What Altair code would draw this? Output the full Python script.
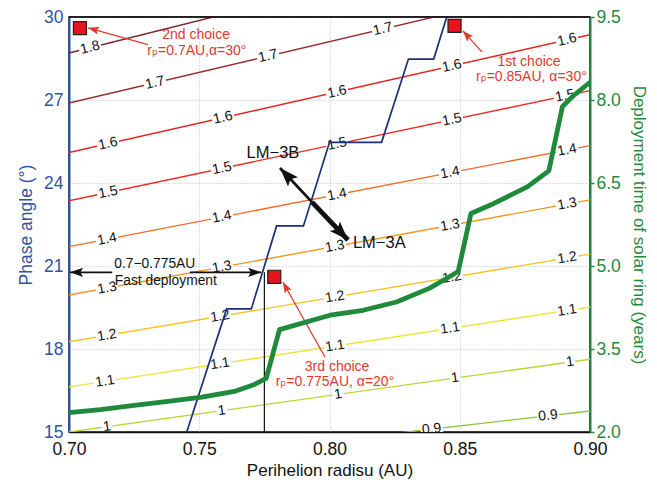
import math
import altair as alt
import pandas as pd

# ---------------- data ----------------
# contour levels (straight iso-lines), phase angle at x=0.70 and x=0.90
levels = [0.9, 1.0, 1.1, 1.2, 1.3, 1.4, 1.5, 1.6, 1.7, 1.8]
level_y_at_070 = [13.60, 15.00, 16.63, 18.26, 19.95, 21.70, 23.36, 25.10, 26.89, 28.70]
level_y_at_090 = [15.76, 17.63, 19.52, 21.43, 23.39, 25.35, 27.34, 29.36, 31.33, 33.40]
level_label_x = [
    [0.8392, 0.8839],
    [0.7146, 0.7587, 0.8033, 0.8482, 0.8923],
    [0.7138, 0.7580, 0.8021, 0.8463, 0.8912],
    [0.7146, 0.7580, 0.8021, 0.8470, 0.8912],
    [0.7146, 0.7587, 0.8021, 0.8463, 0.8912],
    [0.7146, 0.7587, 0.8029, 0.8463, 0.8912],
    [0.7150, 0.7587, 0.8029, 0.8470, 0.8904],
    [0.7150, 0.7591, 0.8029, 0.8470, 0.8912],
    [0.7330, 0.7764, 0.8205],
    [0.7081],
]
level_label_text = ["0.9", "1", "1.1", "1.2", "1.3", "1.4", "1.5", "1.6", "1.7", "1.8"]
level_colors = ["#8cc63f", "#bdd532", "#ece63a", "#f7c31f", "#f7941d",
                "#f26a25", "#ec2a24", "#e5231e", "#9b2b2b", "#7a1f1f"]

# LM-3B / LM-3A boundary (stair line)
lm_x = [0.7452, 0.7605, 0.7700, 0.7797, 0.7900, 0.8000, 0.8200, 0.8303, 0.8400, 0.8450]
lm_y = [15.00, 19.45, 19.45, 22.45, 22.45, 25.47, 25.47, 28.48, 28.48, 30.00]

# deployment time of solar ring (right axis, years)
dep_x = [0.700, 0.712, 0.725, 0.738, 0.751, 0.764, 0.7712, 0.7757, 0.7808, 0.8002,
         0.8129, 0.8257, 0.8385, 0.8462, 0.8494, 0.8543, 0.8631, 0.8759, 0.8842,
         0.8894, 0.8939, 0.900]
dep_t = [2.35, 2.405, 2.48, 2.555, 2.63, 2.74, 2.86, 2.97, 3.85, 4.11,
         4.20, 4.35, 4.60, 4.81, 4.90, 5.95, 6.13, 6.43, 6.72,
         7.88, 8.09, 8.32]

# chosen points
choice_x = [0.8480, 0.7042, 0.7788]
choice_y = [29.68, 29.60, 20.61]

# arrows (tail -> head)
arrow_tail_x = [0.7303, 0.8585, 0.7983, 0.7933, 0.7933, 0.7166, 0.7464]
arrow_tail_y = [29.00, 28.74, 17.70, 23.31, 23.31, 20.77, 20.77]
arrow_head_x = [0.7073, 0.8512, 0.7821, 0.7810, 0.8071, 0.7004, 0.7738]
arrow_head_y = [29.61, 29.50, 20.42, 24.54, 21.94, 20.77, 20.77]
arrow_color = ["#e0392f", "#e0392f", "#e0392f", "#111111", "#111111", "#111111", "#111111"]
arrow_width = [1.3, 1.3, 1.3, 2.8, 4.8, 1.6, 1.6]
arrow_len = [11, 11, 11, 19, 19, 13, 13]

# vertical marker of fast deployment limit
fast_x = [0.775]
fast_y0 = [15.0]
fast_y1 = [20.77]

# text annotations
red_text = ["2nd choice", "rₚ=0.7AU,α=30°", "1st  choice", "rₚ=0.85AU, α=30°",
            "3rd choice", "rₚ=0.775AU, α=20°"]
red_text_x = [0.7488, 0.7491, 0.8766, 0.8775, 0.8029, 0.8021]
red_text_y = [29.36, 28.78, 28.38, 27.83, 17.35, 16.82]

center_text = ["LM−3B"]
center_text_x = [0.7783]
center_text_y = [25.10]
left_text = ["LM−3A", "0.7−0.775AU", "Fast deployment"]
left_text_x = [0.8090, 0.7174, 0.7176]
left_text_y = [21.83, 21.08, 20.45]
left_text_size = [16.5, 13.8, 13.8]

x_ticks = [0.70, 0.75, 0.80, 0.85, 0.90]
y_ticks = [15, 18, 21, 24, 27, 30]
t_ticks = [2.0, 3.5, 5.0, 6.5, 8.0, 9.5]

# ---------------- layout ----------------
W, H = 521, 415
XD = [0.70, 0.90]
YD = [15, 30]
TD = [2.0, 9.5]
px_x = W / (XD[1] - XD[0])
px_y = H / (YD[1] - YD[0])
FONT = "Liberation Sans, Arial, DejaVu Sans"
BLUE = "#2d55a5"
GREEN = "#1f8a3c"
GRID = "#b4bfdc"

xscale = alt.Scale(domain=XD, nice=False, zero=False)
yscale = alt.Scale(domain=YD, nice=False, zero=False)
tscale = alt.Scale(domain=TD, nice=False, zero=False)

xaxis = alt.Axis(values=x_ticks, format=".2f", grid=True, gridDash=[1, 2],
                 gridColor=GRID, gridWidth=1, ticks=False, domainColor="#111111",
                 domainWidth=1.5, labelColor="#111111", labelFontSize=17.5,
                 labelPadding=8, titleFontSize=17, titleFontWeight="normal",
                 titleColor="#111111", titlePadding=5, labelFont=FONT, titleFont=FONT,
                 labelFlush=False)
yaxis = alt.Axis(values=y_ticks, format="d", grid=True, gridDash=[1, 2],
                 gridColor=GRID, gridWidth=1, ticks=False, domainColor=BLUE,
                 domainWidth=2, labelColor=BLUE, labelFontSize=17.5, labelPadding=6,
                 titleFontSize=17.5, titleFontWeight="normal", titleColor=BLUE,
                 titlePadding=8, orient="left", labelFont=FONT, titleFont=FONT,
                 labelFlush=False)
taxis = alt.Axis(values=t_ticks, format=".1f", grid=False, ticks=True, tickSize=4,
                 tickColor=GREEN, tickWidth=1.5, domainColor=GREEN, domainWidth=2,
                 labelColor=GREEN, labelFontSize=17.5, labelPadding=2, titleFontSize=17,
                 titleFontWeight="normal", titleColor=GREEN, titlePadding=9,
                 orient="right", labelFont=FONT, titleFont=FONT, labelFlush=False)


def X(f="x"):
    return alt.X(f"{f}:Q", scale=xscale, axis=xaxis, title="Perihelion radisu (AU)")


def Y(f="y"):
    return alt.Y(f"{f}:Q", scale=yscale, axis=yaxis, title="Phase angle (°)")


def pix_angle(dx, dy):
    """clockwise angle from 'up' of a data-space direction, in screen pixels"""
    sx = dx * px_x
    sy = -dy * px_y
    return math.degrees(math.atan2(sx, -sy)) % 360


# ---------------- tables ----------------
rows = []
lab_rows = []
char_w = {"1": 7.8, ".": 3.9, "0": 7.8, "2": 7.8, "3": 7.8, "4": 7.8, "5": 7.8,
          "6": 7.8, "7": 7.8, "8": 7.8, "9": 7.8}
for i, lv in enumerate(levels):
    y0, y1 = level_y_at_070[i], level_y_at_090[i]
    rows.append({"x": XD[0], "y": y0, "lev": str(lv), "o": 0})
    rows.append({"x": XD[1], "y": y1, "lev": str(lv), "o": 1})
    slope = (y1 - y0) / (XD[1] - XD[0])
    ang = (360 - math.degrees(math.atan(slope * px_y / px_x))) % 360
    txt = level_label_text[i]
    tw = sum(char_w[c] for c in txt)
    for lx in level_label_x[i]:
        ly = y0 + slope * (lx - XD[0])
        lab_rows.append({"x": lx, "y": ly, "t": txt, "ang": ang,
                         "sz": (tw + 3) ** 2})
contour_df = pd.DataFrame(rows)
label_df = pd.DataFrame(lab_rows)

lm_df = pd.DataFrame({"x": lm_x, "y": lm_y, "o": list(range(len(lm_x)))})
dep_df = pd.DataFrame({"x": dep_x, "t": dep_t, "o": list(range(len(dep_x)))})
choice_df = pd.DataFrame({"x": choice_x, "y": choice_y})
fast_df = pd.DataFrame({"x": fast_x, "y": fast_y0, "y2": fast_y1})
top_df = pd.DataFrame({"y": [YD[1]]})

arr_rows = []
for i in range(len(arrow_tail_x)):
    dx = arrow_head_x[i] - arrow_tail_x[i]
    dy = arrow_head_y[i] - arrow_tail_y[i]
    arr_rows.append({"x": arrow_tail_x[i], "y": arrow_tail_y[i],
                     "x2": arrow_head_x[i], "y2": arrow_head_y[i],
                     "c": arrow_color[i], "w": arrow_width[i],
                     "ang": pix_angle(dx, dy), "sz": 4 * arrow_len[i] ** 2,
                     "id": i})
arrow_df = pd.DataFrame(arr_rows)

red_df = pd.DataFrame({"x": red_text_x, "y": red_text_y, "t": red_text})
ctr_df = pd.DataFrame({"x": center_text_x, "y": center_text_y, "t": center_text})
lft_df = pd.DataFrame({"x": left_text_x, "y": left_text_y, "t": left_text,
                       "s": left_text_size})

# ---------------- layers ----------------
lev_order = [str(l) for l in levels]
contours = alt.Chart(contour_df).mark_line(strokeWidth=1.4, clip=True).encode(
    x=X(), y=Y(), order="o:Q",
    color=alt.Color("lev:N", scale=alt.Scale(domain=lev_order, range=level_colors),
                    legend=None),
    detail="lev:N",
)

label_bg = alt.Chart(label_df).mark_point(
    shape="M-1,-0.5L1,-0.5L1,0.5L-1,0.5Z", filled=True, color="white",
    opacity=1, strokeWidth=0, clip=True
).encode(x=X(), y=Y(), angle=alt.Angle("ang:Q", scale=None),
         size=alt.Size("sz:Q", scale=None))

labels = alt.Chart(label_df).mark_text(
    font=FONT, fontSize=14, color="#111111", baseline="middle", align="center",
    clip=True
).encode(x=X(), y=Y(), text="t:N", angle=alt.Angle("ang:Q", scale=None))

fast_line = alt.Chart(fast_df).mark_rule(color="#111111", strokeWidth=1.2).encode(
    x=X(), y=Y(), y2=alt.Y2("y2:Q"))

stairs = alt.Chart(lm_df).mark_line(color="#1c2f7a", strokeWidth=1.7, clip=True).encode(
    x=X(), y=Y(), order="o:Q")

arrow_lines = alt.Chart(arrow_df).mark_rule().encode(
    x=X(), y=Y(), x2=alt.X2("x2:Q"), y2=alt.Y2("y2:Q"),
    color=alt.Color("c:N", scale=None),
    strokeWidth=alt.StrokeWidth("w:Q", scale=None),
    detail="id:N",
)
arrow_heads = alt.Chart(arrow_df).mark_point(
    shape="M0,0L0.36,1L0,0.8L-0.36,1Z", filled=True, opacity=1, strokeWidth=0
).encode(
    x=alt.X("x2:Q", scale=xscale, axis=xaxis, title="Perihelion radisu (AU)"),
    y=alt.Y("y2:Q", scale=yscale, axis=yaxis, title="Phase angle (°)"),
    color=alt.Color("c:N", scale=None),
    angle=alt.Angle("ang:Q", scale=None),
    size=alt.Size("sz:Q", scale=None),
)

top_border = alt.Chart(top_df).mark_rule(color="#111111", strokeWidth=1.5).encode(
    y=Y())

squares = alt.Chart(choice_df).mark_square(
    size=170, color="#e8141b", filled=True, opacity=1, stroke="#222222",
    strokeWidth=1.2
).encode(x=X(), y=Y())

red_texts = alt.Chart(red_df).mark_text(
    font=FONT, fontSize=14, color="#e0392f", align="center", baseline="middle"
).encode(x=X(), y=Y(), text="t:N")

ctr_texts = alt.Chart(ctr_df).mark_text(
    font=FONT, fontSize=16.5, color="#111111", align="center", baseline="middle"
).encode(x=X(), y=Y(), text="t:N")

lft_texts = alt.Chart(lft_df).mark_text(
    font=FONT, color="#111111", align="left", baseline="middle"
).encode(x=X(), y=Y(), text="t:N", size=alt.Size("s:Q", scale=None))

left = alt.layer(contours, label_bg, labels, fast_line, stairs, arrow_lines,
                 arrow_heads, top_border, squares, red_texts, ctr_texts, lft_texts)

green = alt.Chart(dep_df).mark_line(color=GREEN, strokeWidth=4.8, clip=True,
                                    strokeJoin="round").encode(
    x=X(),
    y=alt.Y("t:Q", scale=tscale, axis=taxis,
            title="Deployment time of solar ring (years)"),
    order="o:Q",
)

chart = alt.layer(left, green).resolve_scale(y="independent").properties(
    width=W, height=H,
    autosize=alt.AutoSizeParams(type="none"),
    padding={"left": 69, "top": 17, "right": 67, "bottom": 53},
    background="white",
).configure(font=FONT, view=alt.ViewConfig(stroke="#111111", strokeWidth=1.5))

chart.save("out.html", embed_options={"renderer": "svg", "actions": False})
